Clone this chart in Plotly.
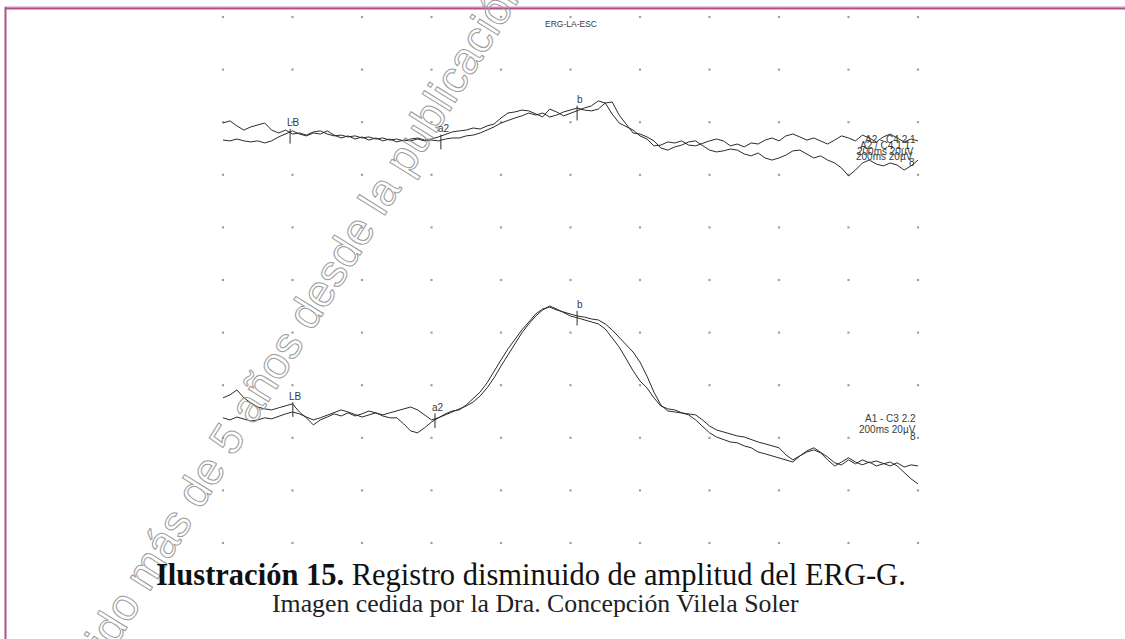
import numpy as np
import plotly.graph_objects as go

# ---------------- data ----------------
time_ms = list(range(0, 201, 2))          # sweep of 200 ms, one sample every 2 ms

# upper channel (A2 - C4), µV relative to channel baseline
top_a = [3.8, 4.6, 2.7, 1.1, 2.3, 3.0, 3.8, 1.1, 0.0, 1.1,
         -0.4, 0.0, -0.8, 0.4, 0.8, -0.4, -1.1, -0.8, -1.5, -1.1,
         -1.9, -1.5, -2.3, -1.9, -2.7, -2.3, -3.0, -2.3, -1.9, -2.7,
         -2.3, -1.5, -0.4, 0.4, 0.8, 1.1, 1.9, 1.5, 2.7, 3.4,
         5.7, 7.6, 8.0, 8.7, 8.4, 7.2, 6.1, 9.1, 8.0, 6.5,
         7.6, 8.7, 9.5, 10.3, 12.2, 11.4, 7.2, 3.8, 2.3, 1.1,
         -1.1, -2.3, -4.9, -4.6, -3.4, -3.8, -3.0, -4.6, -4.9, -3.8,
         -3.0, -2.3, -3.0, -4.9, -4.2, -5.3, -3.8, -4.2, -2.7, -1.9,
         -3.0, -1.1, -0.4, -1.5, -2.7, -1.9, -3.0, -4.2, -2.7, -1.1,
         -1.9, -3.0, -0.8, -1.9, -3.4, -1.5, -0.4, -1.9, -3.4, -2.3,
         -3.0]
top_b = [-2.7, -3.0, -2.3, -3.0, -3.4, -3.0, -3.8, -3.0, -1.5, -0.4,
         0.8, -0.4, -1.1, 0.0, -0.4, 0.8, -0.8, -1.9, -1.1, -2.3,
         -1.5, -2.7, -1.9, -3.0, -2.3, -3.4, -2.7, -3.0, -2.3, -3.0,
         -2.7, -3.0, -2.3, -1.9, -1.9, -1.1, -0.8, 0.0, 1.1, 2.3,
         3.8, 4.9, 5.7, 6.5, 7.6, 6.8, 7.6, 6.1, 6.8, 8.0,
         8.7, 9.5, 8.7, 8.4, 9.1, 11.4, 11.8, 6.8, 3.4, 0.0,
         -0.4, -1.5, -3.0, -5.7, -6.5, -5.3, -4.6, -3.4, -3.0, -4.9,
         -6.5, -7.2, -6.8, -6.1, -6.5, -8.0, -8.7, -7.6, -9.5, -10.3,
         -9.5, -8.4, -6.8, -6.5, -8.0, -9.5, -8.7, -10.3, -11.4, -13.3,
         -16.3, -14.1, -11.4, -10.3, -11.8, -12.5, -11.4, -12.2, -14.1, -12.5,
         -10.3]

# lower channel (A1 - C3), µV relative to channel baseline
bot_a = [6.5, 7.6, 9.5, 6.5, 4.6, 3.0, 2.3, 1.9, 2.7, 3.4,
         4.2, 1.1, -1.1, -3.8, -1.9, -0.8, 0.4, -0.4, 0.8, -0.4,
         0.4, 1.5, 0.8, 0.0, 0.8, 1.5, 2.3, 3.0, 1.9, 0.0,
         -1.9, -1.1, 0.0, 1.1, 2.3, 3.4, 4.9, 7.2, 10.3, 14.1,
         18.6, 22.8, 27.4, 31.2, 34.6, 37.6, 39.9, 41.4, 40.3, 38.8,
         37.6, 36.9, 36.1, 35.3, 34.6, 32.7, 29.3, 25.8, 21.4, 16.8,
         12.9, 10.3, 6.5, 3.4, 2.3, 1.9, 0.8, 0.0, -1.9, -4.2,
         -6.8, -8.4, -9.5, -10.3, -10.6, -11.8, -12.5, -14.1, -14.8, -15.6,
         -16.3, -17.1, -17.9, -15.6, -14.1, -13.3, -14.4, -17.1, -19.4, -17.9,
         -16.3, -17.9, -19.0, -17.9, -19.4, -18.6, -17.9, -19.4, -21.7, -24.3,
         -26.2]
bot_b = [-1.1, -1.9, -0.8, -1.5, -2.3, -1.9, -1.1, -1.5, -0.4, 0.4,
         1.1, 0.4, -0.8, -1.9, -1.1, 0.0, 1.1, 1.9, 1.1, 0.0,
         -0.8, 0.0, 0.8, -0.4, -1.1, -1.1, -3.4, -6.1, -6.8, -4.9,
         -2.7, -1.1, 0.4, 1.5, 1.9, 3.8, 6.1, 8.7, 12.2, 16.3,
         20.9, 25.1, 28.9, 32.3, 35.3, 38.4, 40.3, 41.0, 39.9, 39.1,
         38.4, 37.6, 37.2, 36.5, 36.1, 34.6, 32.3, 29.6, 27.0, 23.9,
         20.1, 14.8, 8.7, 3.8, 1.5, 1.1, 0.8, 0.4, 0.0, -1.9,
         -4.2, -5.7, -6.5, -7.2, -8.0, -8.4, -9.5, -10.3, -11.0, -11.8,
         -12.5, -15.2, -17.1, -15.6, -13.7, -12.5, -14.1, -16.0, -18.2, -19.0,
         -17.1, -18.6, -17.1, -18.2, -17.5, -18.6, -19.4, -18.2, -19.8, -19.0,
         -19.4]

marker_labels = ["LB", "a2", "b"]
top_marker_ms = [19.3, 62.7, 101.9]
bot_marker_ms = [20.1, 61.0, 101.9]

top_channel_text = ["A2 - C4 2.1", "A2 / C4 1.1", "200ms 20µV", "200ms 20µV", "8"]
bot_channel_text = ["A1 - C3 2.2", "200ms 20µV", "8"]

title_text = "ERG-LA-ESC"
caption_bold = "Ilustración 15."
caption_rest = " Registro disminuido de amplitud del ERG-G."
caption_line2 = "Imagen cedida por la Dra. Concepción Vilela Soler"
watermark = "Ha transcurrido más de 5 años desde la publicación"

grid_ms = list(range(0, 201, 20))      # 10 horizontal divisions
grid_uv = list(range(0, 201, 20))      # 10 vertical divisions of 20 µV

# ---------------- layout constants ----------------
TOP_BASE = 155.9
BOT_BASE = 48.7
LINE_COL = "#2b2b2b"
TXT_COL = "#3a3a3a"
BORDER = "#b0508a"

assert all(len(s) == len(time_ms) for s in (top_a, top_b, bot_a, bot_b))

fig = go.Figure()

gx, gy = np.meshgrid(grid_ms, grid_uv)
fig.add_trace(go.Scatter(x=gx.ravel(), y=gy.ravel(), mode="markers",
                         marker=dict(size=2.2, color="#a0a0a0", symbol="square"),
                         cliponaxis=False, hoverinfo="skip"))

for vals, base in [(top_a, TOP_BASE), (top_b, TOP_BASE), (bot_a, BOT_BASE), (bot_b, BOT_BASE)]:
    fig.add_trace(go.Scatter(x=time_ms, y=np.array(vals) + base, mode="lines",
                             line=dict(color=LINE_COL, width=1), hoverinfo="skip",
                             cliponaxis=False))

shapes = []
annotations = []

# watermark first so that every other text is drawn above it
sh = "#9a9a9a"
annotations.append(dict(x=(240 - 223) / 695.0, y=(543 - 417) / 526.0, xref="paper", yref="paper",
                        text=watermark, showarrow=False, textangle=-58,
                        xanchor="center", yanchor="middle",
                        font=dict(family="Liberation Sans", size=45, color="white",
                                  shadow=f"-1px -1px 0 {sh}, 1px -1px 0 {sh}, -1px 1px 0 {sh}, 1px 1px 0 {sh}")))


def add_markers(times, sa, sb, base, half=2.8, drop=1.5):
    for lab, t in zip(marker_labels, times):
        c = (np.interp(t, time_ms, sa) + np.interp(t, time_ms, sb)) / 2 + base - drop
        shapes.append(dict(type="line", xref="x", yref="y", x0=t, x1=t,
                           y0=c - half, y1=c + half, line=dict(color=LINE_COL, width=1)))
        annotations.append(dict(x=t + 0.9, y=c + half - 0.6, xref="x", yref="y",
                                text=lab, showarrow=False, xanchor="center", yanchor="bottom",
                                font=dict(family="Liberation Sans", size=10, color=TXT_COL)))


add_markers(top_marker_ms, top_a, top_b, TOP_BASE)
add_markers(bot_marker_ms, bot_a, bot_b, BOT_BASE, drop=0.5)

top_y = [153.6, 151.3, 149.0, 146.8, 144.5]
top_x = [200, 198.4, 199.5, 199.2, 199.8]
for txt, xx, yy in zip(top_channel_text, top_x, top_y):
    annotations.append(dict(x=xx, y=yy, xref="x", yref="y", text=txt, showarrow=False,
                            xanchor="right", yanchor="middle",
                            font=dict(family="Liberation Sans", size=10, color=TXT_COL)))
bot_y = [47.5, 43.3, 40.6]
for txt, yy in zip(bot_channel_text, bot_y):
    annotations.append(dict(x=200, y=yy, xref="x", yref="y", text=txt, showarrow=False,
                            xanchor="right", yanchor="middle",
                            font=dict(family="Liberation Sans", size=10, color=TXT_COL)))

annotations.append(dict(x=100, y=197.4, xref="x", yref="y", text=title_text, showarrow=False,
                        xanchor="center", yanchor="middle",
                        font=dict(family="Liberation Sans", size=8.5, color=TXT_COL)))

annotations.append(dict(x=0.443, y=-0.061, xref="paper", yref="paper",
                        text="<b>" + caption_bold + "</b>" + caption_rest, showarrow=False,
                        xanchor="center", yanchor="middle",
                        font=dict(family="Liberation Serif", size=30.5, color="#111111")))
annotations.append(dict(x=0.449, y=-0.115, xref="paper", yref="paper",
                        text=caption_line2, showarrow=False,
                        xanchor="center", yanchor="middle",
                        font=dict(family="Liberation Serif", size=25.8, color="#222222")))


# page border (pixel positions converted to paper units)
def px_x(p):
    return (p - 223) / 695.0


def px_y(p):
    return (543 - p) / 526.0


shapes.append(dict(type="line", xref="paper", yref="paper", x0=px_x(5), x1=px_x(1130),
                   y0=px_y(7), y1=px_y(7), line=dict(color="#cf93b3", width=1)))
shapes.append(dict(type="line", xref="paper", yref="paper", x0=px_x(5), x1=px_x(1130),
                   y0=px_y(8.5), y1=px_y(8.5), line=dict(color=BORDER, width=2)))
shapes.append(dict(type="line", xref="paper", yref="paper", x0=px_x(5.5), x1=px_x(5.5),
                   y0=px_y(7), y1=px_y(650), line=dict(color=BORDER, width=2)))

fig.update_layout(
    width=1125, height=639,
    margin=dict(l=223, r=207, t=17, b=96),
    paper_bgcolor="white", plot_bgcolor="white",
    showlegend=False,
    xaxis=dict(range=[0, 200], visible=False, fixedrange=True),
    yaxis=dict(range=[0, 200], visible=False, fixedrange=True),
    shapes=shapes, annotations=annotations,
)

post_js = """
document.body.style.margin='0';
document.body.style.overflow='hidden';
var gd = document.getElementById('{plot_id}');
gd.querySelectorAll('text.annotation-text').forEach(function(t){
  if (t.textContent.indexOf('transcurrido') >= 0) {
    t.style.fill = 'none';
    t.style.stroke = '#9a9a9a';
    t.style.strokeWidth = '1px';
    t.style.textShadow = 'none';
  }
});
"""

fig.write_html("out.html", config={"displayModeBar": False}, post_script=post_js)
